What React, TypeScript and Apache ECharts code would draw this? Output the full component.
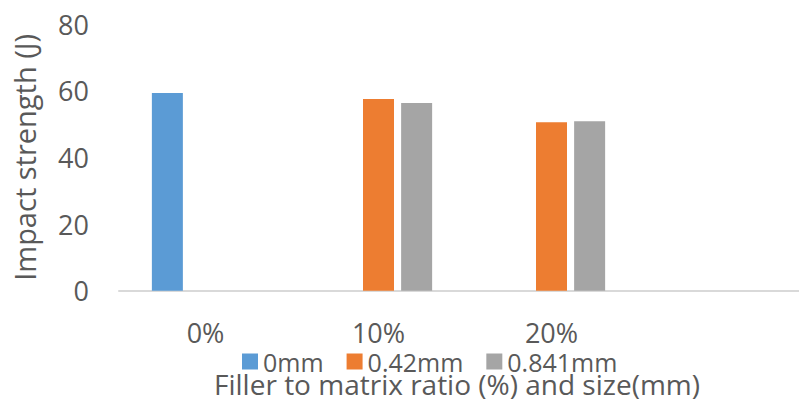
import React, { useEffect, useRef } from "react";
import * as echarts from "echarts";

const categories = ["0%", "10%", "20%", ""];
const seriesNames = ["0mm", "0.42mm", "0.841mm"];
const values0mm = [59.3, null, null, null];
const values042mm = [null, 57.5, 50.5, null];
const values0841mm = [null, 56.3, 50.8, null];
const yTicks = { min: 0, max: 80, interval: 20 };

const FONT = "'Open Sans', 'Noto Sans', sans-serif";
const TEXT = "#595959";

export default function App() {
  const ref = useRef<HTMLDivElement>(null);
  useEffect(() => {
    if (!ref.current) return;
    const chart = echarts.init(ref.current, null, { renderer: "svg" });
    const mk = (name: string, data: (number | null)[], color: string) => ({
      name,
      type: "bar",
      data,
      barWidth: 31,
      barGap: "23%",
      itemStyle: { color },
    });
    chart.setOption({
      animation: false,
      textStyle: { fontFamily: FONT },
      grid: { left: 119, top: 24, right: 0, bottom: 108.3, containLabel: false },
      legend: {
        data: seriesNames,
        left: 237,
        top: 344,
        icon: "rect",
        itemWidth: 16,
        itemHeight: 16,
        itemGap: 23,
        textStyle: { fontSize: 25, color: TEXT, fontFamily: FONT },
      },
      xAxis: {
        type: "category",
        data: categories,
        axisTick: { show: false },
        axisLine: { lineStyle: { color: "#D9D9D9", width: 2 } },
        axisLabel: { fontSize: 27, color: TEXT, margin: 28, fontFamily: FONT, interval: 0 },
      },
      yAxis: {
        type: "value",
        min: yTicks.min,
        max: yTicks.max,
        interval: yTicks.interval,
        splitLine: { show: false },
        axisLine: { show: false },
        axisTick: { show: false },
        axisLabel: { fontSize: 27, color: TEXT, margin: 30, fontFamily: FONT },
        name: "Impact strength (J)",
        nameLocation: "middle",
        nameGap: 80,
        nameTextStyle: { fontSize: 29, color: TEXT, fontFamily: FONT },
      },
      graphic: [
        {
          type: "text",
          x: 457,
          y: 384,
          style: {
            text: "Filler to matrix ratio (%) and size(mm)",
            textAlign: "center",
            textVerticalAlign: "middle",
            fontSize: 28,
            fill: TEXT,
            fontFamily: FONT,
          },
        },
      ],
      series: [
        mk(seriesNames[0], values0mm, "#5B9BD5"),
        mk(seriesNames[1], values042mm, "#ED7D31"),
        mk(seriesNames[2], values0841mm, "#A5A5A5"),
      ],
    });
    return () => chart.dispose();
  }, []);
  return (
    <div
      ref={ref}
      style={{ position: "fixed", left: 0, top: 0, width: 811, height: 399, background: "#fff" }}
    />
  );
}
